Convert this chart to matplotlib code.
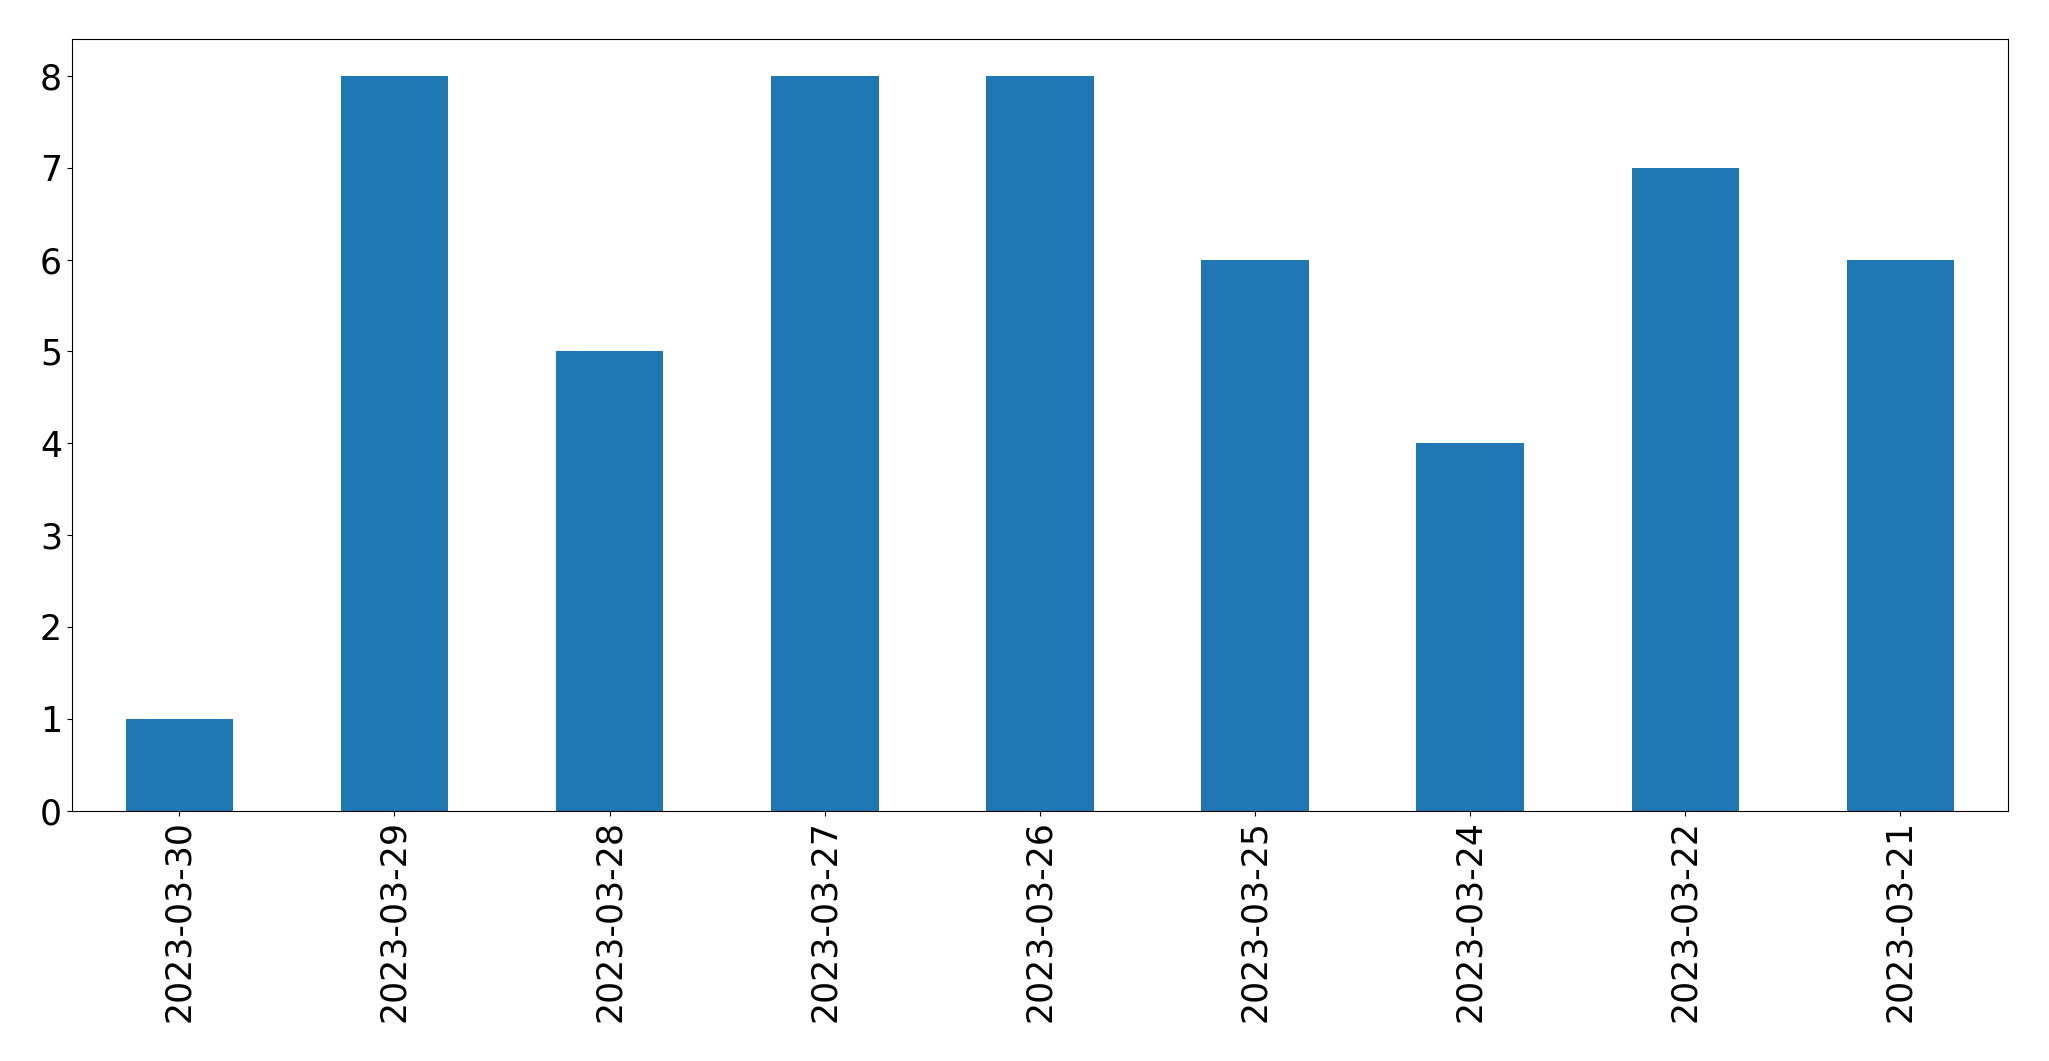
import matplotlib
matplotlib.use("Agg")
import matplotlib.pyplot as plt

dates = ["2023-03-30", "2023-03-29", "2023-03-28", "2023-03-27", "2023-03-26",
         "2023-03-25", "2023-03-24", "2023-03-22", "2023-03-21"]
counts = [1, 8, 5, 8, 8, 6, 4, 7, 6]

fig = plt.figure(figsize=(20.49, 10.61), dpi=100)
ax = fig.add_axes([0.035, 0.236, 0.945, 0.727])
x = range(len(dates))
ax.bar(x, counts, width=0.5, color="#1f77b4")
ax.set_xticks(list(x))
ax.set_xticklabels(dates, rotation=90)
ax.set_xlim(-0.5, len(dates) - 0.5)
ax.tick_params(labelsize=25)
fig.savefig("out.png", dpi=100)
